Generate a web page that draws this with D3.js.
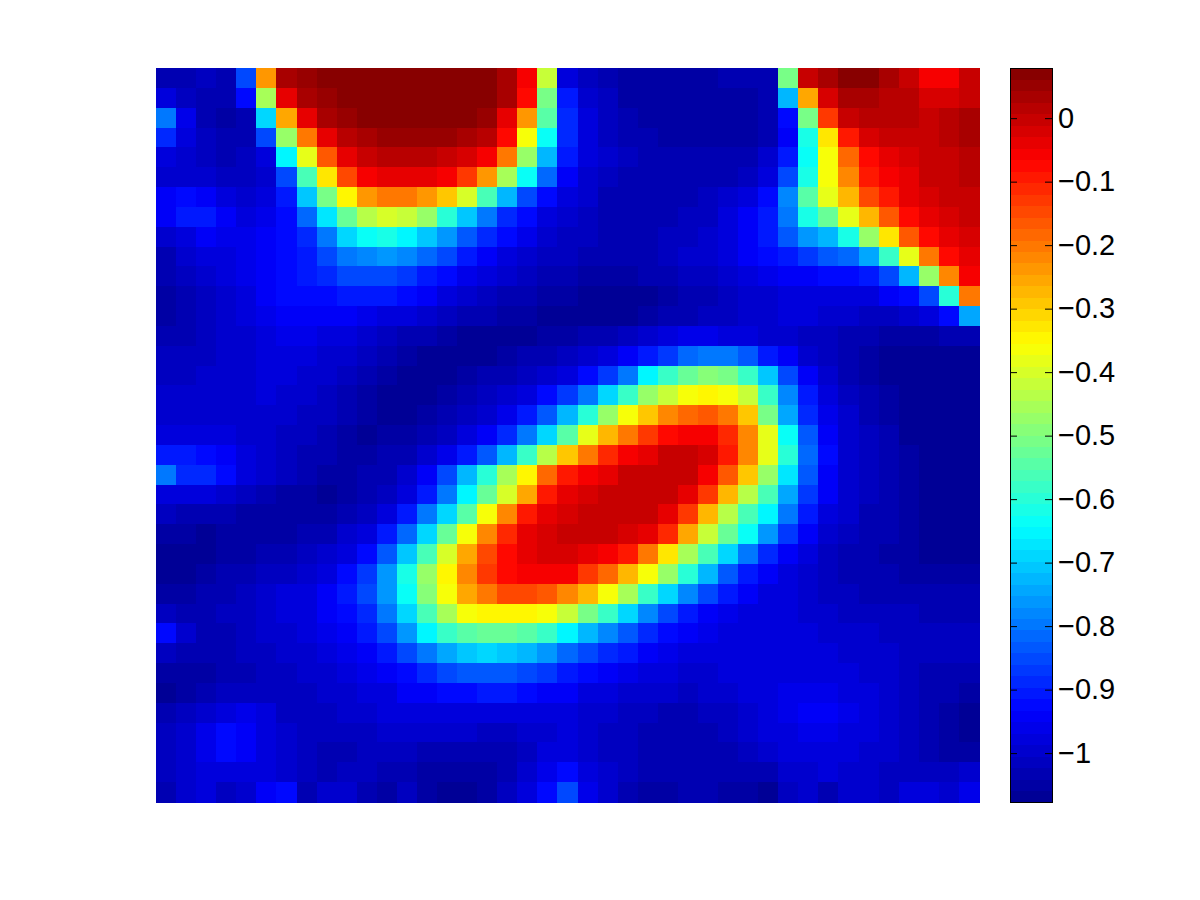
<!DOCTYPE html>
<html>
<head>
<meta charset="utf-8">
<script src="https://cdnjs.cloudflare.com/ajax/libs/d3/7.8.5/d3.min.js"></script>
<style>
html, body { margin: 0; background: #fff; }
</style>
</head>
<body>
<script>
var width = 1200, height = 900;
var plot = { left: 156, right: 979, top: 68, bottom: 802 };
var bar = { left: 1010, right: 1052 };

// colour limits of the image and colourbar
var valueMin = -1.077, valueMax = 0.079;
var colorbarTicks = [0, -0.1, -0.2, -0.3, -0.4, -0.5, -0.6, -0.7, -0.8, -0.9, -1];
var jetStops = ['#00008f', '#0000ff', '#00ffff', '#ffff00', '#ff0000', '#800000'];
var jetPositions = [0, 0.125, 0.375, 0.625, 0.875, 1];

// field values, in hundredths, top row first
var field = [
[-104,-103,-102,-104,-85,-24,3,6,8,8,8,8,8,8,8,8,8,4,-6,-42,-97,-102,-104,-105,-105,-105,-105,-105,-104,-104,-103,-50,0,4,7,7,3,0,-6,-5,0],
[-98,-101,-104,-104,-93,-46,-3,3,6,8,8,8,8,8,8,8,7,3,-7,-50,-90,-100,-102,-105,-105,-105,-105,-105,-105,-105,-104,-72,-25,-2,3,3,2,1,-2,-2,0],
[-80,-96,-103,-105,-103,-68,-25,-3,3,6,8,8,8,8,8,7,5,-4,-24,-55,-88,-98,-101,-103,-105,-105,-105,-105,-105,-105,-104,-93,-50,-13,-1,1,1,1,0,2,3],
[-88,-98,-102,-104,-103,-85,-47,-20,-3,2,4,5,6,6,5,4,1,-7,-36,-64,-88,-97,-101,-103,-104,-105,-105,-105,-105,-105,-104,-95,-62,-32,-10,-2,0,0,0,2,3],
[-97,-100,-102,-103,-102,-97,-66,-38,-16,-4,0,2,2,2,0,-2,-5,-20,-48,-72,-90,-97,-100,-102,-103,-104,-104,-104,-104,-103,-100,-90,-64,-36,-18,-7,-3,-2,0,0,2],
[-99,-99,-100,-101,-101,-99,-85,-56,-33,-15,-5,-3,-3,-4,-6,-12,-24,-45,-64,-82,-94,-99,-101,-103,-103,-104,-104,-104,-103,-102,-97,-85,-62,-36,-22,-10,-5,-3,-1,0,1],
[-94,-93,-95,-98,-99,-97,-91,-70,-50,-34,-24,-20,-20,-24,-30,-40,-56,-72,-85,-93,-98,-100,-103,-103,-104,-104,-103,-102,-100,-97,-92,-78,-55,-39,-27,-15,-9,-4,-2,-1,0],
[-94,-90,-91,-95,-97,-96,-92,-82,-67,-53,-44,-40,-41,-47,-59,-70,-80,-88,-93,-97,-100,-101,-103,-103,-103,-103,-102,-101,-98,-95,-90,-80,-62,-52,-38,-27,-16,-8,-3,-2,-1],
[-100,-97,-95,-96,-96,-95,-93,-88,-79,-69,-64,-62,-66,-70,-76,-83,-89,-93,-96,-99,-101,-102,-103,-103,-103,-102,-101,-100,-97,-94,-90,-84,-76,-72,-62,-48,-32,-17,-8,-4,-2],
[-103,-100,-98,-97,-96,-94,-93,-90,-85,-80,-77,-76,-78,-82,-86,-90,-94,-97,-99,-101,-102,-103,-104,-104,-103,-102,-100,-99,-97,-95,-93,-90,-87,-84,-81,-74,-58,-38,-20,-7,-4],
[-104,-102,-100,-98,-96,-94,-93,-91,-89,-86,-85,-85,-87,-90,-93,-96,-98,-100,-102,-103,-104,-105,-105,-105,-104,-103,-102,-101,-99,-98,-96,-95,-94,-93,-92,-91,-85,-72,-47,-22,-6],
[-105,-104,-101,-99,-97,-95,-93,-92,-92,-91,-90,-91,-93,-95,-98,-100,-102,-103,-104,-105,-105,-106,-106,-106,-106,-105,-104,-103,-101,-100,-99,-98,-97,-97,-97,-97,-95,-92,-85,-60,-20],
[-105,-104,-102,-100,-98,-96,-94,-94,-95,-95,-96,-97,-98,-100,-101,-103,-104,-105,-105,-106,-106,-106,-106,-106,-105,-104,-103,-102,-101,-100,-99,-98,-98,-99,-100,-101,-102,-100,-98,-92,-74],
[-103,-103,-102,-100,-99,-97,-96,-96,-97,-98,-100,-101,-103,-104,-105,-106,-106,-106,-106,-105,-105,-104,-103,-101,-100,-98,-96,-96,-97,-98,-99,-100,-101,-102,-103,-104,-105,-105,-105,-104,-103],
[-102,-102,-101,-100,-99,-98,-97,-98,-99,-100,-102,-104,-105,-106,-106,-106,-106,-105,-104,-103,-102,-100,-98,-95,-91,-87,-82,-80,-80,-84,-90,-95,-99,-102,-104,-105,-106,-106,-106,-106,-106],
[-101,-101,-100,-100,-99,-98,-98,-99,-100,-102,-104,-105,-106,-106,-106,-105,-104,-103,-102,-100,-97,-93,-87,-80,-66,-58,-52,-49,-50,-58,-70,-85,-94,-100,-103,-105,-106,-106,-107,-107,-107],
[-100,-100,-100,-99,-99,-98,-99,-100,-101,-103,-105,-106,-106,-106,-105,-104,-102,-100,-97,-93,-87,-79,-69,-58,-48,-42,-37,-35,-36,-42,-58,-78,-90,-97,-101,-104,-105,-106,-107,-107,-107],
[-99,-99,-99,-99,-99,-99,-100,-101,-102,-104,-105,-106,-106,-105,-104,-102,-100,-96,-91,-84,-73,-60,-48,-37,-29,-22,-18,-17,-20,-29,-50,-74,-88,-96,-100,-103,-105,-106,-107,-107,-107],
[-97,-97,-98,-98,-99,-100,-101,-102,-103,-105,-106,-105,-105,-103,-101,-98,-94,-88,-80,-68,-54,-38,-28,-20,-13,-7,-5,-6,-11,-22,-39,-63,-83,-94,-99,-102,-104,-106,-107,-107,-107],
[-90,-90,-93,-95,-98,-100,-101,-103,-104,-105,-105,-104,-103,-100,-96,-91,-83,-73,-58,-43,-30,-20,-11,-5,-3,-1,0,-2,-9,-22,-38,-60,-82,-93,-99,-102,-104,-105,-107,-107,-107],
[-80,-88,-88,-92,-97,-100,-102,-104,-105,-105,-104,-103,-100,-94,-85,-72,-59,-46,-34,-18,-9,-5,-3,-1,0,0,-1,-5,-16,-30,-47,-67,-84,-94,-99,-102,-104,-105,-106,-107,-107],
[-97,-98,-98,-100,-102,-103,-105,-105,-106,-105,-104,-101,-97,-90,-80,-66,-52,-40,-26,-10,-4,-2,0,0,0,-1,-3,-12,-27,-43,-57,-74,-87,-95,-99,-102,-104,-105,-106,-107,-107],
[-102,-103,-104,-104,-105,-105,-105,-105,-105,-104,-101,-97,-90,-80,-68,-54,-36,-22,-10,-4,-2,0,0,0,-1,-3,-12,-28,-44,-56,-66,-80,-90,-97,-100,-103,-104,-105,-106,-106,-107],
[-105,-105,-106,-105,-105,-105,-105,-104,-103,-100,-97,-91,-82,-68,-52,-37,-22,-11,-4,-2,-1,0,-1,-2,-4,-11,-25,-41,-53,-63,-76,-87,-94,-99,-102,-103,-104,-105,-106,-106,-107],
[-106,-106,-106,-105,-105,-104,-103,-102,-100,-97,-92,-84,-70,-56,-40,-25,-14,-7,-4,-2,-2,-3,-5,-10,-20,-32,-45,-56,-69,-80,-89,-94,-98,-101,-103,-104,-105,-105,-106,-106,-106],
[-106,-106,-105,-104,-103,-102,-101,-99,-97,-93,-87,-76,-62,-48,-34,-22,-13,-8,-5,-5,-6,-12,-19,-28,-36,-48,-59,-72,-83,-90,-94,-97,-100,-102,-103,-104,-104,-105,-105,-105,-105],
[-105,-105,-104,-103,-102,-100,-98,-97,-95,-91,-85,-76,-63,-49,-36,-25,-20,-15,-14,-17,-22,-28,-36,-46,-58,-68,-78,-85,-91,-95,-97,-98,-100,-101,-102,-103,-103,-103,-104,-104,-104],
[-102,-103,-103,-102,-101,-100,-98,-97,-95,-92,-88,-79,-68,-56,-46,-37,-35,-35,-35,-37,-42,-50,-58,-68,-77,-85,-90,-94,-96,-97,-97,-98,-99,-100,-101,-102,-102,-102,-103,-103,-103],
[-93,-100,-103,-103,-102,-100,-99,-98,-96,-94,-91,-86,-76,-65,-58,-54,-52,-53,-55,-58,-65,-72,-77,-84,-89,-93,-95,-96,-97,-97,-97,-98,-98,-99,-100,-100,-101,-101,-102,-102,-102],
[-102,-103,-104,-103,-102,-101,-100,-99,-98,-96,-94,-91,-86,-79,-74,-71,-69,-70,-72,-76,-81,-85,-88,-91,-94,-96,-97,-98,-98,-97,-97,-97,-98,-98,-99,-100,-100,-101,-102,-102,-102],
[-105,-105,-105,-104,-103,-102,-101,-100,-99,-98,-96,-94,-92,-89,-86,-84,-83,-83,-85,-87,-90,-93,-95,-96,-98,-98,-99,-99,-98,-98,-97,-97,-97,-97,-98,-99,-100,-102,-103,-104,-104],
[-106,-105,-104,-102,-101,-102,-102,-102,-100,-99,-98,-97,-95,-94,-93,-92,-91,-91,-92,-94,-95,-97,-98,-99,-100,-100,-101,-100,-99,-98,-97,-96,-96,-96,-97,-98,-100,-102,-103,-104,-105],
[-103,-102,-100,-97,-96,-98,-101,-102,-101,-100,-99,-98,-98,-97,-97,-97,-97,-97,-97,-98,-98,-99,-100,-101,-102,-103,-103,-102,-101,-99,-97,-96,-95,-95,-96,-98,-100,-102,-104,-105,-106],
[-102,-100,-96,-93,-94,-97,-100,-102,-102,-102,-101,-100,-100,-100,-100,-100,-101,-101,-100,-99,-98,-100,-101,-102,-103,-103,-103,-103,-102,-100,-98,-97,-96,-96,-97,-98,-100,-102,-103,-105,-106],
[-102,-100,-96,-93,-94,-97,-100,-102,-103,-103,-102,-102,-102,-103,-104,-104,-104,-103,-101,-98,-97,-99,-101,-102,-103,-103,-103,-103,-103,-101,-99,-98,-97,-97,-98,-99,-100,-101,-103,-105,-105],
[-102,-100,-98,-97,-97,-97,-99,-102,-103,-102,-102,-103,-104,-105,-105,-105,-105,-103,-100,-96,-93,-97,-100,-102,-104,-104,-103,-103,-104,-104,-104,-100,-99,-98,-99,-100,-101,-101,-101,-102,-100],
[-103,-100,-98,-102,-100,-95,-93,-103,-100,-100,-104,-105,-102,-105,-106,-106,-105,-102,-98,-93,-85,-96,-100,-103,-105,-105,-103,-104,-105,-105,-106,-102,-100,-103,-100,-100,-101,-98,-98,-100,-96]
];

var svg = d3.select('body')
	.append('svg')
	.attr('width', width)
	.attr('height', height)
	.style('display', 'block')
	.style('font-family', '"Liberation Sans", sans-serif');

// jet colormap, 64 levels
var jet = d3.scaleLinear().domain(jetPositions).range(jetStops);
var levels = d3.range(64).map(function (i) { return jet((i + 0.5) / 64); });
var color = d3.scaleQuantize().domain([valueMin, valueMax]).range(levels);

var xScale = d3.scaleBand().domain(d3.range(field[0].length)).range([plot.left, plot.right]);
var yScale = d3.scaleBand().domain(d3.range(field.length)).range([plot.top, plot.bottom]);

svg.append('g')
	.attr('shape-rendering', 'crispEdges')
	.selectAll('g')
	.data(field)
	.join('g')
	.each(function (row, j) {
		d3.select(this).selectAll('rect')
			.data(row)
			.join('rect')
			.attr('x', function (d, i) { return xScale(i); })
			.attr('y', yScale(j))
			.attr('width', xScale.bandwidth() + 0.5)
			.attr('height', yScale.bandwidth() + 0.5)
			.attr('fill', function (d) { return color(d / 100); });
	});

// colourbar
var barScale = d3.scaleLinear().domain([valueMin, valueMax]).range([plot.bottom, plot.top]);
var step = (valueMax - valueMin) / levels.length;

svg.append('g')
	.attr('shape-rendering', 'crispEdges')
	.selectAll('rect')
	.data(levels)
	.join('rect')
	.attr('x', bar.left)
	.attr('width', bar.right - bar.left)
	.attr('y', function (d, i) { return barScale(valueMin + (i + 1) * step); })
	.attr('height', function () { return barScale(valueMin) - barScale(valueMin + step) + 0.5; })
	.attr('fill', function (d) { return d; });

svg.append('rect')
	.attr('x', bar.left + 0.5)
	.attr('y', plot.top + 0.5)
	.attr('width', bar.right - bar.left)
	.attr('height', plot.bottom - plot.top)
	.attr('fill', 'none')
	.attr('stroke', '#000');

var labelFormat = function (d) { return d === 0 ? '0' : String(d).replace('-', '\u2212'); };

var rightAxis = d3.axisRight(barScale).tickValues(colorbarTicks).tickFormat(labelFormat)
	.tickSizeInner(-7).tickSizeOuter(0).tickPadding(6);
var leftAxis = d3.axisRight(barScale).tickValues(colorbarTicks).tickFormat('')
	.tickSizeInner(7).tickSizeOuter(0);

var rightNodes = svg.append('g').attr('transform', 'translate(' + bar.right + ',0)').call(rightAxis);
var leftNodes = svg.append('g').attr('transform', 'translate(' + bar.left + ',0)').call(leftAxis);
rightNodes.select('.domain').remove();
leftNodes.select('.domain').remove();
rightNodes.selectAll('line').attr('stroke', '#000');
leftNodes.selectAll('line').attr('stroke', '#000');
rightNodes.selectAll('text').attr('fill', '#000').style('font-size', '29px');
</script>
</body>
</html>
